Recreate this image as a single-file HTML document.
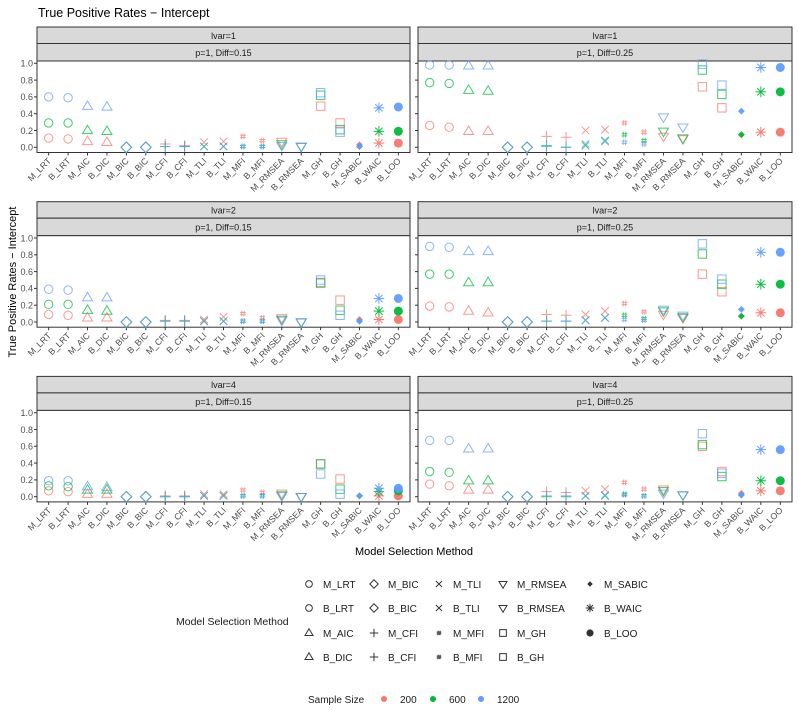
<!DOCTYPE html>
<html><head><meta charset="utf-8"><style>
body{margin:0;background:#fff}
svg{display:block;font-family:"Liberation Sans",Arial,sans-serif}
</style></head><body>
<svg id="c" width="798" height="711" viewBox="0 0 798 711" xmlns="http://www.w3.org/2000/svg">
<text x="38" y="17" font-size="12.5" fill="#000">True Positive Rates − Intercept</text>
<text transform="translate(16,282) rotate(-90)" text-anchor="middle" font-size="11" fill="#000">True Positive Rates − Intercept</text>
<text x="414" y="555" text-anchor="middle" font-size="11" fill="#000">Model Selection Method</text>
<g id="panels"></g>
<g id="legend"></g>
</svg>
<script>
const categories=["M_LRT","B_LRT","M_AIC","B_DIC","M_BIC","B_BIC","M_CFI","B_CFI","M_TLI","B_TLI","M_MFI","B_MFI","M_RMSEA","B_RMSEA","M_GH","B_GH","M_SABIC","B_WAIC","B_LOO"];
const sampleSizes=["200","600","1200"];
const yTicks=[0,0.2,0.4,0.6,0.8,1.0];
const yTickLabels=["0.0","0.2","0.4","0.6","0.8","1.0"];
const lvarLabels=["lvar=1","lvar=2","lvar=4"];
const diffLabels=["p=1, Diff=0.15","p=1, Diff=0.25"];
// panel values: [lvar][diff][sampleSize]
const l1d15_200=[0.11,0.10,0.07,0.06,0,0,0.04,0.02,0.06,0.07,0.13,0.08,0.07,0.01,0.49,0.29,0.03,0.05,0.05];
const l1d15_600=[0.29,0.29,0.20,0.19,0,0,0.01,0.01,0.01,0.01,0.01,0.01,0.04,0.01,0.62,0.21,0.01,0.19,0.19];
const l1d15_1200=[0.60,0.59,0.49,0.48,0,0,0.01,0.01,0.01,0.01,0.01,0.01,0.02,0.01,0.65,0.18,0.01,0.47,0.48];
const l1d25_200=[0.26,0.24,0.19,0.19,0,0,0.13,0.12,0.20,0.21,0.29,0.18,0.13,0.10,0.72,0.47,0.15,0.18,0.18];
const l1d25_600=[0.77,0.76,0.68,0.67,0,0,0.02,0.00,0.02,0.08,0.15,0.08,0.19,0.11,0.92,0.63,0.15,0.66,0.66];
const l1d25_1200=[0.98,0.98,0.97,0.97,0,0,0.01,0.00,0.04,0.07,0.06,0.04,0.36,0.24,0.99,0.74,0.43,0.95,0.95];
const l2d15_200=[0.09,0.08,0.05,0.05,0,0,0.02,0.02,0.03,0.06,0.10,0.05,0.05,0.00,0.46,0.26,0.03,0.03,0.03];
const l2d15_600=[0.21,0.21,0.14,0.13,0,0,0.01,0.01,0.01,0.01,0.01,0.01,0.03,0.00,0.47,0.14,0.01,0.13,0.13];
const l2d15_1200=[0.39,0.38,0.29,0.29,0,0,0.01,0.01,0.01,0.01,0.01,0.01,0.02,0.00,0.50,0.08,0.01,0.28,0.28];
const l2d25_200=[0.19,0.18,0.13,0.11,0,0,0.09,0.08,0.09,0.13,0.22,0.12,0.09,0.05,0.57,0.36,0.07,0.11,0.11];
const l2d25_600=[0.57,0.57,0.47,0.47,0,0,0.01,0.01,0.02,0.05,0.08,0.04,0.13,0.06,0.81,0.45,0.07,0.45,0.45];
const l2d25_1200=[0.90,0.89,0.84,0.84,0,0,0.01,0.01,0.02,0.05,0.03,0.02,0.15,0.08,0.93,0.51,0.15,0.83,0.83];
const l4d15_200=[0.07,0.06,0.03,0.03,0,0,0.01,0.01,0.03,0.03,0.08,0.05,0.04,0.00,0.39,0.21,0.01,0.01,0.01];
const l4d15_600=[0.13,0.12,0.08,0.08,0,0,0.00,0.00,0.01,0.01,0.01,0.01,0.02,0.00,0.39,0.09,0.01,0.06,0.07];
const l4d15_1200=[0.19,0.19,0.12,0.11,0,0,0.00,0.00,0.01,0.01,0.01,0.01,0.01,0.00,0.27,0.03,0.01,0.10,0.10];
const l4d25_200=[0.15,0.13,0.08,0.08,0,0,0.06,0.05,0.07,0.09,0.17,0.09,0.09,0.02,0.60,0.30,0.04,0.07,0.07];
const l4d25_600=[0.30,0.29,0.19,0.19,0,0,0.00,0.00,0.01,0.01,0.03,0.01,0.07,0.02,0.62,0.24,0.02,0.19,0.19];
const l4d25_1200=[0.67,0.67,0.57,0.57,0,0,0.01,0.01,0.01,0.02,0.02,0.01,0.04,0.02,0.75,0.28,0.02,0.56,0.56];
const panelData=[[[l1d15_200,l1d15_600,l1d15_1200],[l1d25_200,l1d25_600,l1d25_1200]],
 [[l2d15_200,l2d15_600,l2d15_1200],[l2d25_200,l2d25_600,l2d25_1200]],
 [[l4d15_200,l4d15_600,l4d15_1200],[l4d25_200,l4d25_600,l4d25_1200]]];

const NS="http://www.w3.org/2000/svg";
const colors=["#F8766D","#00BA38","#619CFF"];
const shapes=["circle","circle","tri","tri","diamond","diamond","plus","plus","cross","cross","hash","hash","dtri","dtri","square","square","sdiamond","star","dot"];
function mk(tag,attrs,parent){const e=document.createElementNS(NS,tag);for(const k in attrs)e.setAttribute(k,attrs[k]);parent.appendChild(e);return e;}
function drawShape(g,shape,x,y,col,s){
  let e;const w=1;
  if(shape==="circle"){e=mk("circle",{cx:x,cy:y,r:4.2*s,fill:"none",stroke:col,"stroke-width":w},g);}
  else if(shape==="dot"){e=mk("circle",{cx:x,cy:y,r:4.5*s,fill:col,stroke:"none"},g);}
  else if(shape==="tri"){const r=5.3*s;e=mk("polygon",{points:`${x},${y-r} ${x+r*0.95},${y+r*0.6} ${x-r*0.95},${y+r*0.6}`,fill:"none",stroke:col,"stroke-width":w},g);}
  else if(shape==="dtri"){const r=5.3*s;e=mk("polygon",{points:`${x},${y+r} ${x+r*0.95},${y-r*0.6} ${x-r*0.95},${y-r*0.6}`,fill:"none",stroke:col,"stroke-width":w},g);}
  else if(shape==="diamond"){const r=5.3*s;e=mk("polygon",{points:`${x},${y-r} ${x+r},${y} ${x},${y+r} ${x-r},${y}`,fill:"none",stroke:col,"stroke-width":w},g);}
  else if(shape==="sdiamond"){const r=3.4*s;e=mk("polygon",{points:`${x},${y-r} ${x+r},${y} ${x},${y+r} ${x-r},${y}`,fill:col,stroke:"none"},g);}
  else if(shape==="square"){const r=4.2*s;e=mk("rect",{x:x-r,y:y-r,width:2*r,height:2*r,fill:"none",stroke:col,"stroke-width":w},g);}
  else if(shape==="plus"){const r=5.3*s;e=mk("path",{d:`M${x-r},${y}H${x+r}M${x},${y-r}V${y+r}`,stroke:col,"stroke-width":w,fill:"none"},g);}
  else if(shape==="cross"){const r=3.8*s;e=mk("path",{d:`M${x-r},${y-r}L${x+r},${y+r}M${x-r},${y+r}L${x+r},${y-r}`,stroke:col,"stroke-width":w,fill:"none"},g);}
  else if(shape==="star"){const r=5.3*s;e=mk("path",{d:`M${x-r},${y}H${x+r}M${x-r*0.7},${y-r*0.7}L${x+r*0.7},${y+r*0.7}M${x-r*0.7},${y+r*0.7}L${x+r*0.7},${y-r*0.7}M${x},${y-r}V${y+r}`,stroke:col,"stroke-width":w,fill:"none"},g);}
  else if(shape==="hash"){const r=2.8*s;e=mk("path",{d:`M${x-r},${y-r*0.4}H${x+r}M${x-r},${y+r*0.4}H${x+r}M${x-r*0.35},${y-r}L${x-r*0.5},${y+r}M${x+r*0.5},${y-r}L${x+r*0.35},${y+r}`,stroke:col,"stroke-width":w,fill:"none"},g);}
  return e;
}
const panelsG=document.getElementById("panels");
const colX=[[37,410],[418,792]];
const rowTop=[27,201.7,376.4];
for(let r=0;r<3;r++){for(let c=0;c<2;c++){
  const g=mk("g",{},panelsG);
  
  
  const x0=colX[c][0],x1=colX[c][1],top=rowTop[r];
  const pTop=top+34,pBot=top+125.5;
  const y1=top+36.3,y0v=top+120.3;
  const yScale=v=>y0v-(y0v-y1)*v;
  const step=(x1-x0)/(categories.length-1+1.2);
  const xScale=i=>x0+step*(0.6+i);
  const s1=mk("rect",{x:x0,y:top,width:x1-x0,height:16.5,fill:"#D9D9D9",stroke:"#333","stroke-width":1},g);
  
  const t1=mk("text",{x:(x0+x1)/2,y:top+11.8,"text-anchor":"middle","font-size":"9","fill":"#1a1a1a"},g);t1.textContent=lvarLabels[r];
  
  const s2=mk("rect",{x:x0,y:top+16.5,width:x1-x0,height:17.5,fill:"#D9D9D9",stroke:"#333","stroke-width":1},g);
  
  const t2=mk("text",{x:(x0+x1)/2,y:top+28.8,"text-anchor":"middle","font-size":"9","fill":"#1a1a1a"},g);t2.textContent=diffLabels[c];
  
  const pr=mk("rect",{x:x0,y:pTop,width:x1-x0,height:pBot-pTop,fill:"#fff",stroke:"#333","stroke-width":1},g);
  
  for(let k=0;k<yTicks.length;k++){
    const yy=yScale(yTicks[k]);
    const tk=mk("line",{x1:x0-3,x2:x0,y1:yy,y2:yy,stroke:"#333","stroke-width":1},g);
    
    if(c===0){const tl=mk("text",{x:x0-4,y:yy+3.3,"text-anchor":"end","font-size":"9","fill":"#4d4d4d"},g);tl.textContent=yTickLabels[k];
      }
  }
  for(let i=0;i<categories.length;i++){
    const xx=xScale(i);
    const tk=mk("line",{x1:xx,x2:xx,y1:pBot,y2:pBot+3,stroke:"#333","stroke-width":1},g);
    
    const tl=mk("text",{transform:`translate(${xx+3},${pBot+9}) rotate(-45)`,"text-anchor":"end","font-size":"8.8","fill":"#4d4d4d"},g);
    tl.textContent=categories[i];
    
  }
  for(let s=0;s<3;s++){
    const vals=panelData[r][c][s];
    for(let i=0;i<categories.length;i++){
      const m=drawShape(g,shapes[i],xScale(i),yScale(vals[i]),colors[s],1);
      m.setAttribute('opacity',(shapes[i]==="dot"||shapes[i]==="sdiamond"||shapes[i]==="star")?"0.95":"0.75");
      
      
    }
  }
}}
const lg=document.getElementById("legend");
const lt=mk("text",{x:176,y:625,"font-size":"10.5","fill":"#1a1a1a"},lg);lt.textContent="Model Selection Method";

const legendCats=["M_LRT","B_LRT","M_AIC","B_DIC","M_BIC","B_BIC","M_CFI","B_CFI","M_TLI","B_TLI","M_MFI","B_MFI","M_RMSEA","B_RMSEA","M_GH","B_GH","M_SABIC","B_WAIC","B_LOO"];
const legColX=[309,374,439,503,590];
const legRowY=[584,608,633,657];
for(let i=0;i<legendCats.length;i++){
  const col=Math.floor(i/4),row=i%4;
  const x=legColX[col],y=legRowY[row];
  const sh=drawShape(lg,shapes[categories.indexOf(legendCats[i])],x,y,"#333",0.8);
  
  const t=mk("text",{x:x+14,y:y+4,"font-size":"10","fill":"#1a1a1a"},lg);t.textContent=legendCats[i];
  
}
const st=mk("text",{x:308,y:703,"font-size":"10","fill":"#1a1a1a"},lg);st.textContent="Sample Size";

const ssX=[384,433,481];
for(let s=0;s<3;s++){
  const d=mk("circle",{cx:ssX[s],cy:699,r:3,fill:colors[s]},lg);
  
  const t=mk("text",{x:ssX[s]+16,y:703,"font-size":"10","fill":"#1a1a1a"},lg);t.textContent=sampleSizes[s];
  
}
</script>
</body></html>
